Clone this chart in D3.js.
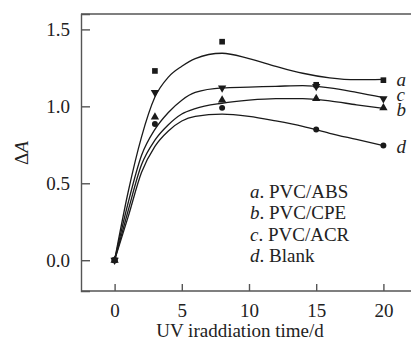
<!DOCTYPE html>
<html>
<head>
<meta charset="utf-8">
<script src="https://cdn.jsdelivr.net/npm/d3@7"></script>
<style>
  body { margin: 0; background: #fff; }
  svg { display: block; font-family: "Liberation Serif", "DejaVu Serif", serif; }
</style>
</head>
<body>
<div id="vis"></div>
<script>
// datos medidos (puntos)
const DIAS = [0, 3, 8, 15, 20];
const SERIE_A = [0, 1.23, 1.42, 1.14, 1.17];   // PVC/ABS
const SERIE_B = [0, 0.93, 1.04, 1.05, 0.99];   // PVC/CPE
const SERIE_C = [0, 1.09, 1.12, 1.13, 1.05];   // PVC/ACR
const SERIE_D = [0, 0.885, 0.99, 0.85, 0.745]; // Blank

// curvas ajustadas
const AJUSTE_X = [0, 1, 2, 3, 4, 5, 6, 8, 10, 12, 14, 16, 18, 20];
const AJUSTE_A = [0, 0.44, 0.80, 1.06, 1.19, 1.26, 1.31, 1.345, 1.31, 1.26, 1.215, 1.185, 1.173, 1.175];
const AJUSTE_B = [0, 0.32, 0.62, 0.78, 0.88, 0.95, 0.985, 1.02, 1.04, 1.05, 1.05, 1.035, 1.01, 0.987];
const AJUSTE_C = [0, 0.37, 0.68, 0.85, 0.96, 1.04, 1.09, 1.12, 1.125, 1.13, 1.135, 1.12, 1.09, 1.056];
const AJUSTE_D = [0, 0.28, 0.57, 0.74, 0.84, 0.905, 0.935, 0.95, 0.935, 0.905, 0.87, 0.825, 0.785, 0.745];

const LETRAS = ["a", "b", "c", "d"];
const NOMBRES = ["PVC/ABS", "PVC/CPE", "PVC/ACR", "Blank"];
const X_TICKS = [0, 5, 10, 15, 20];
const Y_TICKS = [0.0, 0.5, 1.0, 1.5];

const WIDTH = 411;
const HEIGHT = 342;
const MARGIN = { top: 14, left: 81, bottom: 291 };

const SVG = d3.select("#vis").append("svg").attr("width", WIDTH).attr("height", HEIGHT);

crearGrafico();

function crearGrafico() {
    const x = d3.scaleLinear().domain([-2.5, 22.5]).range([MARGIN.left, MARGIN.left + 336]);
    const y = d3.scaleLinear().domain([-0.2, 1.6]).range([MARGIN.bottom, MARGIN.top]);

    const series = [
        { letra: "a", puntos: SERIE_A, ajuste: AJUSTE_A, simbolo: "cuadrado", dy: 6 },
        { letra: "b", puntos: SERIE_B, ajuste: AJUSTE_B, simbolo: "triArriba", dy: 8 },
        { letra: "c", puntos: SERIE_C, ajuste: AJUSTE_C, simbolo: "triAbajo", dy: 2 },
        { letra: "d", puntos: SERIE_D, ajuste: AJUSTE_D, simbolo: "circulo", dy: 7 },
    ];

    const color = "#1a1a1a";

    // marco (arriba e izquierda / abajo)
    const g = SVG.append("g");
    g.append("line").attr("x1", x(-2.5)).attr("x2", WIDTH + 5).attr("y1", y(1.6)).attr("y2", y(1.6))
        .attr("stroke", "#555").attr("stroke-width", 1.4);

    // eje x (ticks hacia adentro)
    const ejeX = g.append("g").attr("transform", `translate(0, ${y(-0.2)})`)
        .call(d3.axisBottom(x).tickValues(X_TICKS).tickSize(-7).tickPadding(13).tickFormat(d3.format("d")));
    ejeX.select(".domain").attr("d", `M${x(-2.5)},0H${WIDTH + 5}`);

    const ejeY = g.append("g").attr("transform", `translate(${x(-2.5)}, 0)`)
        .call(d3.axisLeft(y).tickValues(Y_TICKS).tickSize(-9).tickPadding(11).tickFormat(d3.format(".1f")));

    [ejeX, ejeY].forEach(e => {
        e.select(".domain").attr("stroke", "#555").attr("stroke-width", 1.4);
        e.selectAll(".tick line").attr("stroke", "#555").attr("stroke-width", 1.4);
        e.selectAll(".tick text").attr("font-family", "Liberation Serif").attr("font-size", 19).attr("fill", "#222");
    });

    // curvas ajustadas
    const linea = d3.line()
        .x((d, i) => x(AJUSTE_X[i]))
        .y(d => y(d))
        .curve(d3.curveMonotoneX);

    g.selectAll(".curva")
        .data(series)
        .join("path")
        .attr("class", "curva")
        .attr("d", d => linea(d.ajuste))
        .attr("fill", "none")
        .attr("stroke", color)
        .attr("stroke-width", 1.3);

    // simbolos
    const formas = {
        cuadrado: d3.symbol().type(d3.symbolSquare).size(32),
        triArriba: d3.symbol().type(d3.symbolTriangle).size(30),
        triAbajo: d3.symbol().type(d3.symbolTriangle).size(30),
        circulo: d3.symbol().type(d3.symbolCircle).size(28),
    };

    series.slice().reverse().forEach(s => {
        g.append("g")
            .selectAll("path")
            .data(s.puntos)
            .join("path")
            .attr("d", formas[s.simbolo])
            .attr("transform", (d, i) => `translate(${x(DIAS[i])}, ${y(d)})` + (s.simbolo == "triAbajo" ? " rotate(180)" : ""))
            .attr("fill", color);
    });

    // letras al final de cada curva
    g.selectAll(".letra")
        .data(series)
        .join("text")
        .attr("class", "letra")
        .attr("x", x(20) + 13)
        .attr("y", d => y(d.puntos[4]) + d.dy)
        .attr("font-size", 19)
        .attr("font-style", "italic")
        .attr("fill", "#222")
        .text(d => d.letra);

    // leyenda
    const leyenda = g.append("g");
    leyenda.selectAll("text")
        .data(LETRAS)
        .join("text")
        .attr("x", 250)
        .attr("y", (d, i) => 198 + i * 21.3)
        .attr("font-size", 19)
        .attr("fill", "#222")
        .call(t => t.append("tspan").attr("font-style", "italic").text(d => d))
        .call(t => t.append("tspan").text((d, i) => ". " + NOMBRES[i]));

    // titulos de ejes
    g.append("text")
        .attr("x", 240)
        .attr("y", 337)
        .attr("text-anchor", "middle")
        .attr("font-size", 19)
        .attr("fill", "#222")
        .text("UV iraddiation time/d");

    const tituloY = g.append("text")
        .attr("transform", "translate(28, 153) rotate(-90)")
        .attr("text-anchor", "middle")
        .attr("font-size", 19)
        .attr("fill", "#222");
    tituloY.append("tspan").text("Δ");
    tituloY.append("tspan").attr("font-style", "italic").text("A");
}
</script>
</body>
</html>
